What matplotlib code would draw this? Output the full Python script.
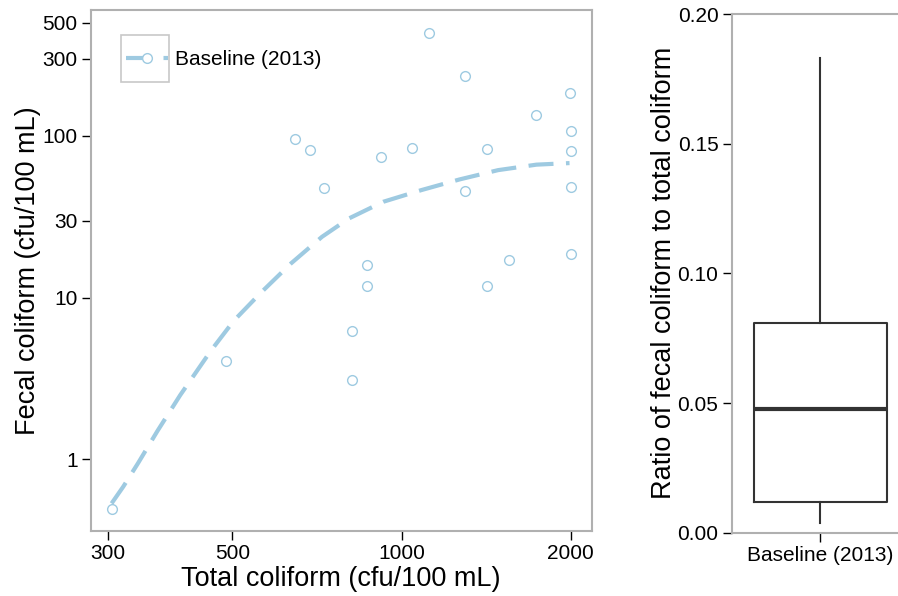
import matplotlib.pyplot as plt
from matplotlib.lines import Line2D
from matplotlib.patches import Rectangle

plt.rcParams['font.family'] = ['Liberation Sans', 'DejaVu Sans']

# scatter: total coliform vs fecal coliform (cfu/100 mL)
total_coliform = [1121, 1298, 1991, 1738, 2000, 647, 687, 1046, 1417, 2000,
                  921, 728, 1298, 2000, 867, 1556, 2000, 867, 1417,
                  815, 488, 815, 306]
fecal_coliform = [433, 236, 184, 134, 107, 95.4, 81.5, 84, 82.8, 80.7,
                  74.5, 47.9, 45.5, 48.3, 16.0, 17.1, 18.6, 11.9, 11.8,
                  6.27, 4.06, 3.1, 0.495]

# fitted curve
fit_x = [305, 320, 340, 368, 404, 458, 503, 563, 636, 722, 806, 928, 1085,
         1269, 1485, 1738, 1990]
fit_y = [0.535, 0.68, 0.95, 1.5, 2.5, 4.7, 7.2, 10.8, 16.3, 23.8, 30.9,
         39.2, 46.3, 53.9, 61.5, 66.5, 68.0]

# box stats for ratio fecal / total
ratio_box = dict(med=0.0477, q1=0.0118, q3=0.0808, whislo=0.0037,
                 whishi=0.183, label='Baseline (2013)')

x_ticks = [300, 500, 1000, 2000]
y_ticks = [1, 10, 30, 100, 300, 500]
ratio_ticks = [0.00, 0.05, 0.10, 0.15, 0.20]

blue = '#9ecae1'
frame = '#b0b0b0'

fig = plt.figure(figsize=(8.98, 5.96), dpi=100)
ax = fig.add_axes([0.101, 0.1096, 0.558, 0.874])
ax2 = fig.add_axes([0.8148, 0.1062, 0.1967, 0.8703])

ax.plot(fit_x, fit_y, color=blue, lw=3, linestyle=(0, (6, 3)))
ax.plot(total_coliform, fecal_coliform, 'o', ms=7, mfc='none', mec=blue, mew=1)
ax.set_xscale('log')
ax.set_yscale('log')
ax.set_xlim(280, 2180)
ax.set_ylim(0.363, 603)
ax.set_xticks(x_ticks)
ax.set_xticklabels([str(t) for t in x_ticks])
ax.set_yticks(y_ticks)
ax.set_yticklabels([str(t) for t in y_ticks])
ax.minorticks_off()
ax.set_xlabel('Total coliform (cfu/100 mL)', fontsize=19.5, labelpad=2)
ax.set_ylabel('Fecal coliform (cfu/100 mL)', fontsize=19.5, labelpad=1)

handle = Line2D([], [], color=blue, lw=3, linestyle=(0, (6, 3)), marker='o',
                ms=7, mfc='white', mec=blue, mew=1)
ax.legend([handle], ['Baseline (2013)'], loc='center left',
          bbox_to_anchor=(0.0705, 0.904), frameon=False, borderpad=0,
          borderaxespad=0, handlelength=2.0, handletextpad=0.35, fontsize=15)
ax.add_patch(Rectangle((0.0599, 0.861), 0.0958, 0.091, transform=ax.transAxes,
                       fill=False, edgecolor='#c8c8c8', lw=1.2))

ax2.bxp([ratio_box], positions=[1], widths=0.753, showfliers=False,
        boxprops=dict(color='#333333', lw=1.5),
        whiskerprops=dict(color='#333333', lw=1.5),
        capprops=dict(visible=False),
        medianprops=dict(color='#333333', lw=3))
ax2.set_xlim(0.5, 1.5)
ax2.set_ylim(0, 0.2)
ax2.set_yticks(ratio_ticks)
ax2.set_yticklabels(['%.2f' % t for t in ratio_ticks])
ax2.set_ylabel('Ratio of fecal coliform to total coliform', fontsize=19.5, labelpad=0)

for a in (ax, ax2):
    for s in a.spines.values():
        s.set_color(frame)
        s.set_linewidth(1.5)
    a.tick_params(direction='out', length=6.5, width=1, colors='black',
                  labelsize=15, pad=3)

fig.savefig('out.png', dpi=100)
